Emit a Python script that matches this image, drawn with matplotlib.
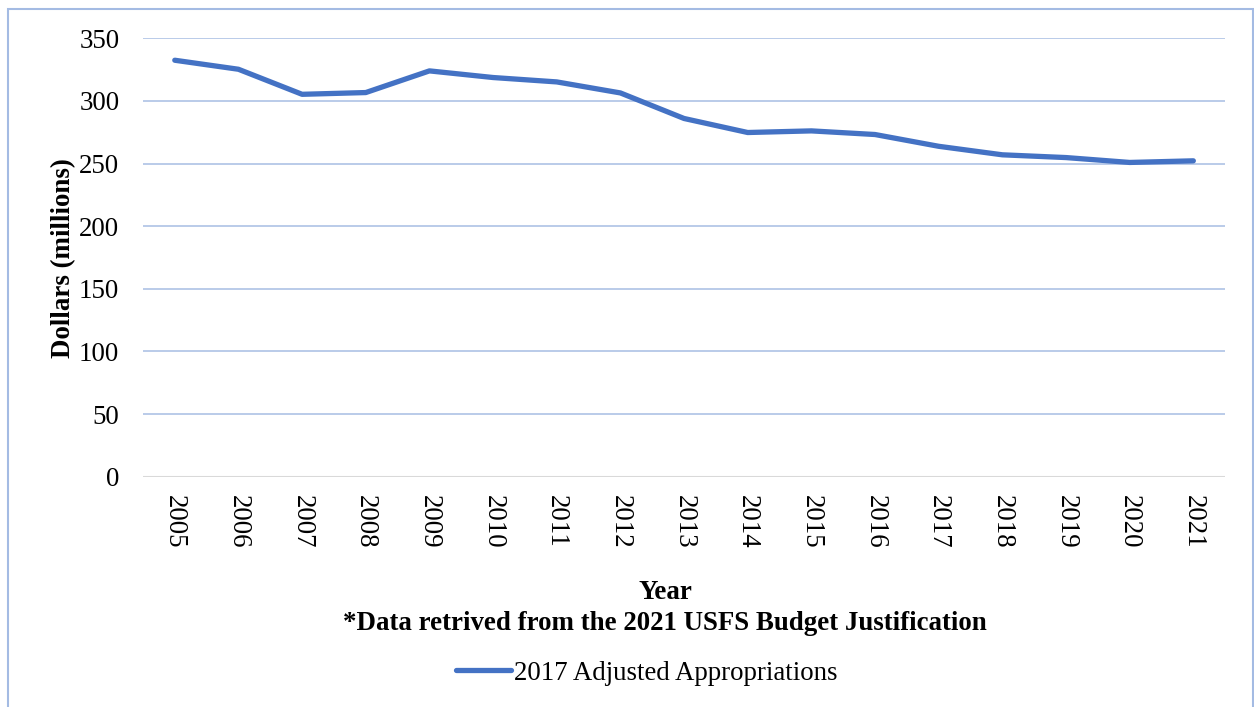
import matplotlib.pyplot as plt
import matplotlib.patches as patches

COLOR_LINE = "#4472c4"
COLOR_GRID = "#b4c7e7"
COLOR_BORDER = "#a4bbe3"

years = ["2005", "2006", "2007", "2008", "2009", "2010", "2011", "2012", "2013",
         "2014", "2015", "2016", "2017", "2018", "2019", "2020", "2021"]
appropriations = [332.5, 325.3, 305.3, 306.7, 324.0, 318.7, 315.2, 306.4, 286.0,
                  274.8, 276.1, 273.2, 263.8, 257.0, 254.8, 250.9, 252.2]
y_ticks = [0, 50, 100, 150, 200, 250, 300, 350]

FS = 19.4
plt.rcParams["font.family"] = ["Liberation Serif", "DejaVu Serif"]

fig = plt.figure(figsize=(12.54, 7.07), dpi=100)
ax = fig.add_axes([0.114, 0.3257, 0.863, 0.6201])

x = list(range(len(years)))
line, = ax.plot(x, appropriations, color=COLOR_LINE, lw=3.8,
                solid_capstyle="round", solid_joinstyle="round", zorder=3)

ax.set_xlim(-0.5, len(years) - 0.5)
ax.set_ylim(0, 350)
ax.set_yticks(y_ticks)
ax.set_xticks(x)
ax.set_xticklabels(years, rotation=270, fontsize=FS)
ax.tick_params(axis="y", labelsize=FS, length=0, pad=17)
ax.tick_params(axis="x", length=0, pad=13)

for v in y_ticks[1:]:
    ax.axhline(v, color=COLOR_GRID, lw=1.3, zorder=1)
ax.axhline(0, color="#d9d9d9", lw=1.5, zorder=1)
for s in ax.spines.values():
    s.set_visible(False)

fig.text(0.0505, 0.635, "Dollars (millions)", rotation=90, ha="center", va="center",
         fontsize=FS, fontweight="bold")
fig.text(0.531, 0.162, "Year", ha="center", va="center", fontsize=FS, fontweight="bold")
fig.text(0.530, 0.118, "*Data retrived from the 2021 USFS Budget Justification",
         ha="center", va="center", fontsize=FS, fontweight="bold")

fig.legend([line], ["2017 Adjusted Appropriations"], loc="center",
           bbox_to_anchor=(0.5155, 0.048), frameon=False, fontsize=FS,
           handlelength=2.05, handletextpad=0.1)

border = patches.Rectangle((8 / 1254, -0.05), 1245 / 1254, 1.05 - 9 / 707,
                           transform=fig.transFigure, fill=False,
                           edgecolor=COLOR_BORDER, lw=1.5)
fig.patches.append(border)

fig.savefig("out.png", dpi=100)
